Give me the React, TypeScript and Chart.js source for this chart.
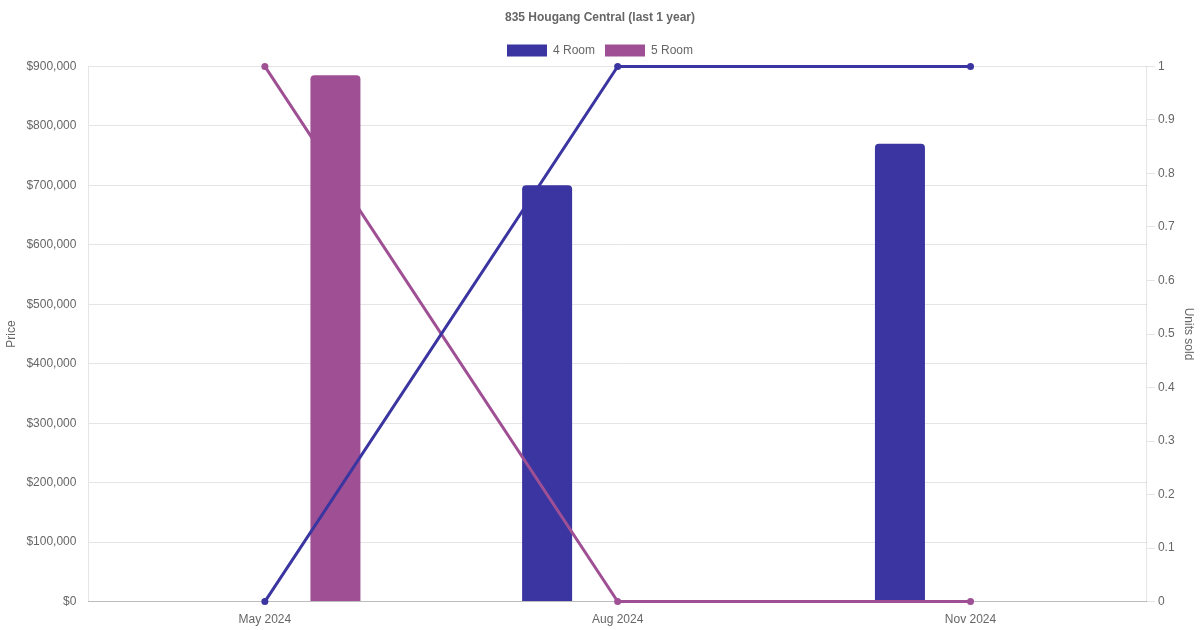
import React, { useEffect, useRef } from "react";
import { Chart, registerables } from "chart.js";

Chart.register(...registerables);

const categories = ["May 2024", "Aug 2024", "Nov 2024"];
const price4Room = [null, 700000, 770000];
const price5Room = [885000, null, null];
const units4Room = [0, 1, 1];
const units5Room = [1, 0, 0];
const seriesNames = ["4 Room", "5 Room"];
const colors = ["#3a35a0", "#9f5094"];
const titleText = "835 Hougang Central (last 1 year)";

export default function App() {
  const ref = useRef<HTMLCanvasElement | null>(null);

  useEffect(() => {
    if (!ref.current) return;
    Chart.defaults.font.family = "'Liberation Sans', Arial, Helvetica, sans-serif";
    Chart.defaults.font.size = 12;
    Chart.defaults.color = "#666";
    const lineCommon = {
      type: "line" as const,
      yAxisID: "y1",
      borderWidth: 3,
      pointRadius: 3.5,
      pointHoverRadius: 3.5,
      pointBorderWidth: 0,
      tension: 0,
      clip: false as const,
    };
    const chart = new Chart(ref.current, {
      type: "bar",
      data: {
        labels: categories,
        datasets: [
          {
            ...lineCommon,
            label: seriesNames[0] + " units",
            data: units4Room,
            borderColor: colors[0],
            backgroundColor: colors[0],
          },
          {
            ...lineCommon,
            label: seriesNames[1] + " units",
            data: units5Room,
            borderColor: colors[1],
            backgroundColor: colors[1],
          },
          {
            type: "bar",
            label: seriesNames[0],
            data: price4Room,
            yAxisID: "y",
            backgroundColor: colors[0],
            borderColor: colors[0],
            borderRadius: 4,
            maxBarThickness: 50,
          },
          {
            type: "bar",
            label: seriesNames[1],
            data: price5Room,
            yAxisID: "y",
            backgroundColor: colors[1],
            borderColor: colors[1],
            borderRadius: 4,
            maxBarThickness: 50,
          },
        ] as any,
      },
      options: {
        animation: false,
        responsive: true,
        maintainAspectRatio: false,
        plugins: {
          title: {
            display: true,
            text: titleText,
            font: { size: 12, weight: "bold" },
            color: "#666",
          },
          legend: {
            display: true,
            labels: {
              filter: (item: any) => seriesNames.includes(item.text),
              boxWidth: 40,
              boxHeight: 12,
            },
          },
          tooltip: { enabled: false },
        },
        scales: {
          x: {
            grid: { display: false },
            border: { display: true, color: "rgba(0,0,0,0.18)" },
            ticks: { color: "#666" },
          },
          y: {
            position: "left",
            min: 0,
            max: 900000,
            ticks: {
              stepSize: 100000,
              color: "#666",
              padding: 4,
              callback: (v: any) => "$" + Number(v).toLocaleString("en-US"),
            },
            grid: { color: "rgba(0,0,0,0.1)", tickColor: "rgba(0,0,0,0)" },
            border: { display: true },
            title: { display: true, text: "Price", color: "#666" },
          },
          y1: {
            position: "right",
            min: 0,
            max: 1,
            ticks: {
              stepSize: 0.1,
              color: "#666",
              callback: (v: any) => String(Math.round(Number(v) * 10) / 10),
            },
            grid: { drawOnChartArea: false, color: "rgba(0,0,0,0.1)" },
            title: { display: true, text: "Units sold", color: "#666" },
          },
        },
      } as any,
    });
    return () => chart.destroy();
  }, []);

  return (
    <div style={{ position: "fixed", left: 0, top: 0, width: 1200, height: 630, background: "#fff" }}>
      <canvas ref={ref} />
    </div>
  );
}
